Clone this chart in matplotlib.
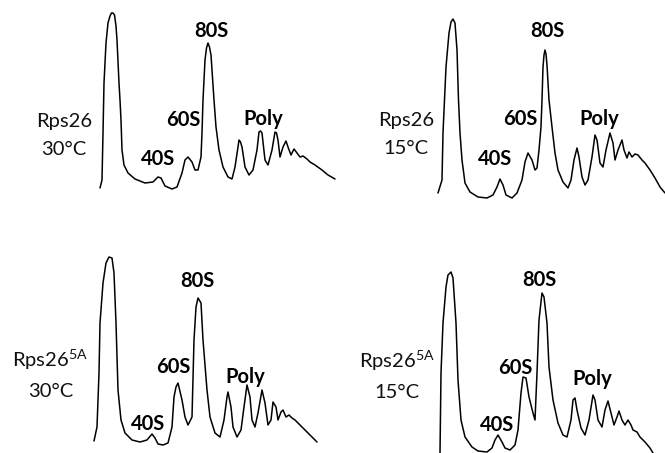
import matplotlib
matplotlib.use("Agg")
import matplotlib.pyplot as plt

plt.rcParams['font.family'] = ['Lato', 'DejaVu Sans']

# Panel 1: Rps26 30°C  (position along gradient, A254 in arbitrary units)
p1_x = [100, 102, 103, 104, 106, 108, 110, 111.5, 113, 114.5, 116, 117, 119, 120, 121, 122, 124, 128, 135, 145,
        153, 158, 161, 165, 172, 177, 182, 185, 188, 192, 195, 198, 201, 202, 203, 205, 206.5, 208, 209.5, 211,
        214, 216, 219, 223, 228, 232, 235, 238, 239, 240.5, 242, 245, 249, 253, 257, 259, 260.5, 262, 265, 268,
        272, 275, 276.5, 278, 280, 283, 286, 288, 291, 294, 297, 300, 303, 307, 310, 315, 322, 328, 335]
p1_y = [12, 20, 67, 117, 157, 177, 184, 187, 187, 185, 174, 160, 117, 100, 80, 50, 35, 27, 21, 17,
        18, 23, 22, 14, 11, 13, 27, 40, 43, 38, 30, 30, 43, 67, 100, 140, 152, 157, 153, 145,
        100, 73, 50, 33, 23, 21, 33, 53, 60, 58, 53, 33, 25, 30, 50, 68, 69, 67, 40, 35,
        50, 68, 67, 60, 43, 53, 59, 53, 45, 51, 47, 43, 44, 41, 38, 35, 30, 25, 21]

# Panel 2: Rps26 15°C
p2_x = [438, 442, 443, 446, 449, 451, 453, 455, 457, 458.5, 460, 462, 465, 470, 478, 487, 493, 497,
        500, 503, 506, 512, 517, 522, 525, 528, 532, 535, 537, 539, 541, 542, 543, 544, 545, 546, 547, 549,
        552, 555, 558, 563, 568, 571, 574, 577, 579, 582, 585, 588, 592, 595, 597, 600, 603, 606,
        610, 613, 615, 618, 622, 624, 627, 629, 632, 635, 638, 642, 645, 650, 655, 660, 665]
p2_y = [7, 20, 67, 133, 167, 178, 181, 177, 150, 100, 67, 40, 17, 8, 3, 2, 5, 13,
        21, 15, 5, 2, 7, 20, 38, 47, 40, 30, 32, 50, 73, 100, 133, 145, 150, 146, 135, 100,
        73, 47, 30, 18, 12, 20, 40, 52, 43, 23, 15, 20, 43, 65, 60, 37, 33, 50,
        67, 57, 40, 50, 60, 50, 42, 48, 43, 46, 45, 40, 37, 30, 22, 13, 7]

# Panel 3: Rps26-5A 30°C
p3_x = [94, 97, 99, 100, 103, 106, 109, 112, 114, 116, 118, 121, 125, 132, 140, 147, 152, 155,
        158, 163, 168, 172, 174, 176, 178, 182, 185, 188, 192, 194, 196, 198, 201, 203, 207, 210,
        215, 220, 224, 227, 228, 231, 233, 237, 241, 244, 247, 250, 252, 255, 258, 262, 265, 268,
        271, 273, 276, 278, 281, 283, 286, 289, 292, 295, 300, 305, 312, 317]
p3_y = [12, 26, 80, 130, 170, 190, 196, 195, 180, 130, 63, 33, 20, 13, 11, 13, 19, 15,
        9, 8, 10, 26, 56, 66, 70, 53, 36, 28, 36, 113, 146, 155, 150, 113, 63, 36,
        20, 16, 33, 56, 61, 46, 26, 16, 23, 46, 68, 56, 33, 26, 40, 63, 50, 28,
        33, 51, 46, 33, 41, 43, 36, 38, 35, 33, 28, 23, 16, 11]

# Panel 4: Rps26-5A 15°C
p4_x = [440, 441, 443, 446, 448, 451, 453, 456, 458, 461, 465, 472, 478, 487, 492, 495, 498, 502,
        505, 510, 515, 518, 521, 523, 526, 529, 533, 535, 537, 539, 542, 544, 547, 549, 553, 558,
        563, 567, 571, 573, 575, 577, 581, 585, 589, 593, 595, 598, 602, 605, 608, 611, 614, 617,
        619, 622, 625, 628, 631, 633, 637, 640, 645, 650, 653]
p4_y = [0, 80, 130, 166, 178, 181, 175, 130, 73, 33, 16, 6, 2, 1, 5, 13, 18, 11,
        5, 3, 8, 23, 60, 76, 75, 56, 40, 33, 80, 133, 160, 156, 130, 86, 53, 30,
        18, 16, 33, 53, 55, 43, 25, 18, 33, 58, 53, 33, 26, 43, 52, 40, 28, 36,
        42, 33, 28, 33, 28, 23, 21, 16, 11, 5, 0]

strain_labels = ["Rps26", "Rps26", "Rps26$^{\\mathregular{5A}}$", "Rps26$^{\\mathregular{5A}}$"]
temp_labels = ["30°C", "15°C", "30°C", "15°C"]
peak_labels = ["40S", "60S", "80S", "Poly"]

W, H = 665, 453
fig = plt.figure(figsize=(W / 100, H / 100), dpi=100)

# (left px, right px, top px, bottom px)
boxes = [(0, 340, 0, 200), (340, 665, 0, 200), (0, 340, 240, 453), (340, 665, 240, 453)]
traces = [(p1_x, p1_y), (p2_x, p2_y), (p3_x, p3_y), (p4_x, p4_y)]

# label positions (x, baseline y) in each panel's data coordinates
strain_pos = [(64, 73), (406, 74), (50, 86), (397, 85)]
temp_pos = [(64, 45), (406, 46), (51, 56), (397, 55)]
peak_pos = [
    [(158, 35), (183.5, 74), (211, 163), (263, 75)],
    [(495, 35), (520, 75), (547, 163), (599, 75)],
    [(148, 23), (173, 80), (197.5, 166), (245, 70)],
    [(497, 22), (515, 79), (539, 167), (592, 68)],
]

fs = 14.5
for i, ((l, r, t, b), (xs, ys)) in enumerate(zip(boxes, traces)):
    ax = fig.add_axes([l / W, (H - b) / H, (r - l) / W, (b - t) / H])
    ax.set_xlim(l, r)
    ax.set_ylim(0, b - t)
    ax.axis('off')
    ax.plot(xs, ys, color='black', lw=1.1, solid_joinstyle='round', solid_capstyle='round')
    sx, sy = strain_pos[i]
    ax.text(sx, sy, strain_labels[i], ha='center', va='baseline', fontsize=fs, color='#111111')
    tx, ty = temp_pos[i]
    ax.text(tx, ty, temp_labels[i], ha='center', va='baseline', fontsize=fs, color='#111111')
    for lab, (px, py) in zip(peak_labels, peak_pos[i]):
        ax.text(px, py, lab, ha='center', va='baseline', fontsize=fs, fontweight='bold', color='black')

fig.savefig("out.png", dpi=100)
